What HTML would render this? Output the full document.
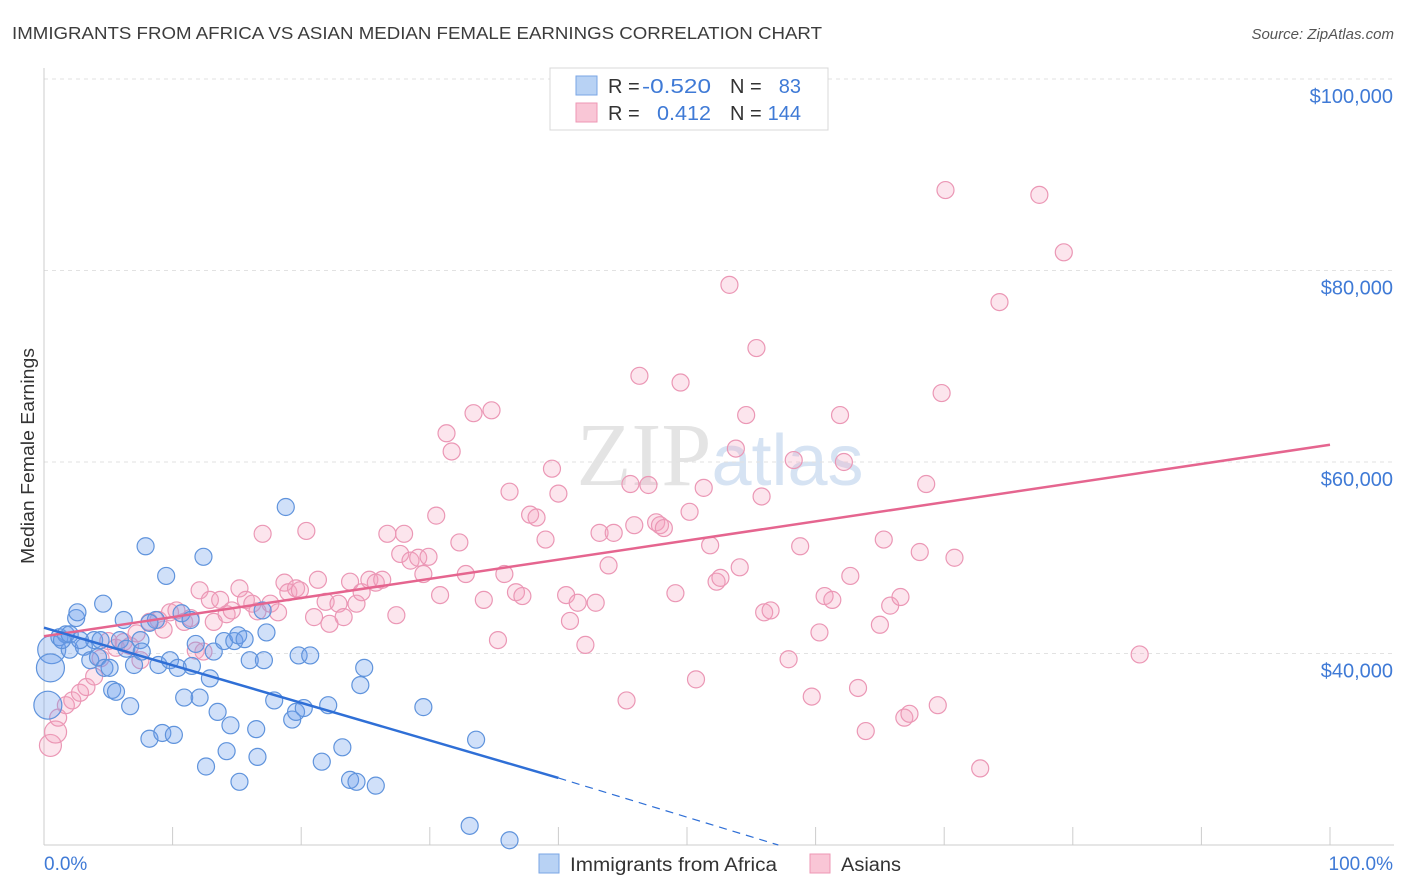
<!DOCTYPE html>
<html><head><meta charset="utf-8">
<style>
body{margin:0;background:#fff;font-family:"Liberation Sans",sans-serif;}
svg{display:block}
</style></head>
<body>
<svg id="chart" width="1406" height="892">
<text x="12" y="39" font-size="17.5" fill="#3c3c3c" textLength="810" lengthAdjust="spacingAndGlyphs">IMMIGRANTS FROM AFRICA VS ASIAN MEDIAN FEMALE EARNINGS CORRELATION CHART</text>
<text x="1394" y="39" font-size="15" fill="#555" font-style="italic" text-anchor="end">Source: ZipAtlas.com</text>
<text x="720" y="485" font-size="90" fill="#e4e4e4" text-anchor="middle" font-family="Liberation Serif,serif">ZIP<tspan fill="#d6e3f3" font-family="Liberation Sans,sans-serif" font-size="72">atlas</tspan></text>
<g id="grid"></g>
<g id="axes"></g>
<g id="marks"></g>
<text transform="translate(34,456) rotate(-90)" font-size="18" fill="#333" text-anchor="middle" textLength="216" lengthAdjust="spacingAndGlyphs">Median Female Earnings</text>
<g>
<rect x="550" y="68" width="278" height="62" fill="#fff" stroke="#d8d8d8"/>
<rect x="576" y="76" width="21" height="19" fill="#b8d2f4" stroke="#7aa6e4"/>
<rect x="576" y="103" width="21" height="19" fill="#f9c6d6" stroke="#ee97b4"/>
<text x="608" y="93" font-size="20" fill="#333">R =</text>
<text x="642" y="93" font-size="20" fill="#3f7ad6" textLength="69" lengthAdjust="spacingAndGlyphs">-0.520</text>
<text x="730" y="93" font-size="20" fill="#333">N =</text>
<text x="801" y="93" font-size="20" fill="#3f7ad6" text-anchor="end">83</text>
<text x="608" y="120" font-size="20" fill="#333">R =</text>
<text x="657" y="120" font-size="20" fill="#3f7ad6" textLength="54" lengthAdjust="spacingAndGlyphs">0.412</text>
<text x="730" y="120" font-size="20" fill="#333">N =</text>
<text x="801" y="120" font-size="20" fill="#3f7ad6" text-anchor="end">144</text>
</g>
<g>
<rect x="539" y="854" width="20" height="19" fill="#b8d2f4" stroke="#7aa6e4"/>
<text x="570" y="871" font-size="19" fill="#333" textLength="207" lengthAdjust="spacingAndGlyphs">Immigrants from Africa</text>
<rect x="810" y="854" width="20" height="19" fill="#f9c6d6" stroke="#ee97b4"/>
<text x="841" y="871" font-size="19" fill="#333" textLength="60" lengthAdjust="spacingAndGlyphs">Asians</text>
</g>
</svg>
<script>
const yTicks=[40000,60000,80000,100000];
const yTickLabels=["$40,000","$60,000","$80,000","$100,000"];
const xTickLabels=["0.0%","100.0%"];
const blueX=[0.6,0.5,0.3,1.2,1.7,2.0,2.5,2.6,3.1,3.6,3.9,4.2,4.6,4.7,5.1,5.3,5.6,5.9,6.2,6.4,6.7,7.0,7.5,7.6,7.9,8.2,8.7,8.9,9.2,9.5,9.8,10.1,10.4,10.7,10.9,11.4,11.5,11.8,12.1,12.4,12.6,12.9,13.2,13.5,14.0,14.2,14.5,14.8,15.1,15.2,15.6,16.0,16.5,16.6,17.0,17.1,17.3,17.9,18.8,19.3,19.6,19.8,20.2,20.7,21.6,22.1,23.2,23.8,24.3,24.6,24.9,25.8,29.5,33.1,33.6,36.2,1.4,2.0,2.8,4.4,8.2];
const blueY=[40.4,38.5,34.6,41.7,42.0,40.4,43.7,44.3,40.7,39.3,41.4,39.6,45.2,38.5,38.5,36.2,36.0,41.4,43.5,40.5,34.5,38.8,41.4,40.2,51.2,31.1,43.5,38.8,31.7,48.1,39.3,31.5,38.5,44.2,35.4,43.5,38.7,41.0,35.4,50.1,28.2,37.4,40.2,33.9,41.3,29.8,32.5,41.3,41.9,26.6,41.5,39.3,32.1,29.2,44.5,39.3,42.2,35.1,55.3,33.1,33.9,39.8,34.3,39.8,28.7,34.6,30.2,26.8,26.6,36.7,38.5,26.2,34.4,22.0,31.0,20.5,41.4,42.0,41.4,41.4,43.2];
const pinkX=[0.5,0.9,1.1,1.7,2.2,2.8,3.3,3.9,4.4,5.0,5.6,6.2,6.7,7.2,7.5,8.2,8.9,9.3,9.8,10.3,10.9,11.4,11.8,12.1,12.4,12.9,13.2,13.7,14.2,14.6,15.2,15.7,16.2,16.6,17.0,17.6,18.2,18.7,19.0,19.6,19.9,20.4,21.0,21.3,21.9,22.2,22.9,23.3,23.8,24.3,24.7,25.3,25.8,26.3,26.7,27.4,27.7,28.0,28.5,29.1,29.5,29.9,30.5,30.8,31.3,31.7,32.3,32.8,33.4,34.2,34.8,35.3,35.8,36.2,36.7,37.2,37.8,38.3,39.0,39.5,40.0,40.6,40.9,41.5,42.1,42.9,43.2,43.9,44.3,45.3,45.6,45.9,46.3,47.0,47.6,47.9,48.2,49.1,49.5,50.2,50.7,51.3,51.8,52.3,52.6,53.3,53.8,54.1,54.6,55.4,55.8,56.0,56.5,57.9,58.3,58.8,59.7,60.3,60.7,61.3,61.9,62.2,62.7,63.3,63.9,65.0,65.3,65.8,66.6,66.9,67.3,68.1,68.6,69.5,69.8,70.1,70.8,72.8,74.3,77.4,79.3,85.2];
const pinkY=[30.4,31.8,33.3,34.6,35.1,35.9,36.5,37.6,39.5,41.3,40.6,41.2,40.8,42.1,39.3,43.3,43.5,42.5,44.3,44.5,43.3,43.7,40.3,46.6,40.2,45.6,43.3,45.6,44.1,44.5,46.8,45.6,45.2,44.4,52.5,45.2,44.3,47.4,46.4,46.8,46.6,52.8,43.8,47.7,45.4,43.1,45.2,43.8,47.5,45.2,46.4,47.7,47.4,47.7,52.5,44.0,50.4,52.5,49.7,50.0,48.3,50.1,54.4,46.1,63.0,61.1,51.6,48.3,65.1,45.6,65.4,41.4,48.3,56.9,46.4,46.0,54.5,54.2,51.9,59.3,56.7,46.1,43.4,45.3,40.9,45.3,52.6,49.2,52.6,35.1,57.7,53.4,69.0,57.6,53.7,53.4,53.1,46.3,68.3,54.8,37.3,57.3,51.3,47.5,47.9,78.5,61.4,49.0,64.9,71.9,56.4,44.3,44.5,39.4,60.2,51.2,35.5,42.2,46.0,45.6,64.9,60.0,48.1,36.4,31.9,43.0,51.9,45.0,45.9,33.3,33.7,50.6,57.7,34.6,67.2,88.4,50.0,28.0,76.7,87.9,81.9,39.9];
const blueTrend=[[0,42.7],[40,27.0]];
const blueTrendExt=[[40,27.0],[57.1,20.0]];
const pinkTrend=[[0,41.8],[100,61.8]];

const X0=44,X1=1330,YTOP=79,YBOT=845;
const xs=p=>X0+(X1-X0)*p/100;
const ys=v=>YBOT-(YBOT-YTOP)*(v-20000)/80000;
const NS="http://www.w3.org/2000/svg";
function mk(tag,parent,attrs){const e=document.createElementNS(NS,tag);for(const k in attrs)e.setAttribute(k,attrs[k]);parent.appendChild(e);return e;}
const grid=document.getElementById('grid'),axes=document.getElementById('axes'),marks=document.getElementById('marks');
yTicks.forEach((t,i)=>{
  const l=mk('line',grid,{x1:X0,x2:1394,y1:ys(t),y2:ys(t),stroke:'#e2e2e2','stroke-dasharray':'4,4'});
  
  
  const tx=mk('text',axes,{x:1393,y:ys(t)+24,'font-size':20,fill:'#3f7ad6','text-anchor':'end'});
  tx.textContent=yTickLabels[i];
  
  
});
const xa=mk('line',axes,{x1:X0,x2:1394,y1:YBOT,y2:YBOT,stroke:'#ccc'});


const ya=mk('line',axes,{x1:X0,x2:X0,y1:68,y2:YBOT,stroke:'#ccc'});


for(let i=1;i<=10;i++){
  const t=mk('line',axes,{x1:xs(i*10),x2:xs(i*10),y1:YBOT-18,y2:YBOT,stroke:'#ccc'});
  
  
}
[[0,'start',44],[100,'end',1393]].forEach((d,i)=>{
  const tx=mk('text',axes,{x:d[2],y:870,'font-size':19,fill:'#3f7ad6','text-anchor':d[1]});
  tx.textContent=xTickLabels[i];
  
  
});
pinkX.forEach((x,i)=>{
  const r=i<2?11:8.5;
  const c=mk('circle',marks,{cx:xs(x),cy:ys(pinkY[i]*1000),r:r,fill:'rgba(245,160,190,0.28)',stroke:'#eb97b5','stroke-width':1.2});
  
  
});
blueX.forEach((x,i)=>{
  const r=i<3?14:8.5;
  const c=mk('circle',marks,{cx:xs(x),cy:ys(blueY[i]*1000),r:r,fill:'rgba(110,160,235,0.32)',stroke:'#5f93dc','stroke-width':1.2});
  
  
});
const pl=mk('line',marks,{x1:xs(pinkTrend[0][0]),y1:ys(pinkTrend[0][1]*1000),x2:xs(pinkTrend[1][0]),y2:ys(pinkTrend[1][1]*1000),stroke:'#e5658f','stroke-width':2.5});


const bl=mk('line',marks,{x1:xs(blueTrend[0][0]),y1:ys(blueTrend[0][1]*1000),x2:xs(blueTrend[1][0]),y2:ys(blueTrend[1][1]*1000),stroke:'#2f6fd6','stroke-width':2.5});


const bd=mk('line',marks,{x1:xs(blueTrendExt[0][0]),y1:ys(blueTrendExt[0][1]*1000),x2:xs(blueTrendExt[1][0]),y2:ys(blueTrendExt[1][1]*1000),stroke:'#2f6fd6','stroke-width':1.2,'stroke-dasharray':'8,6'});


</script>
</body></html>
